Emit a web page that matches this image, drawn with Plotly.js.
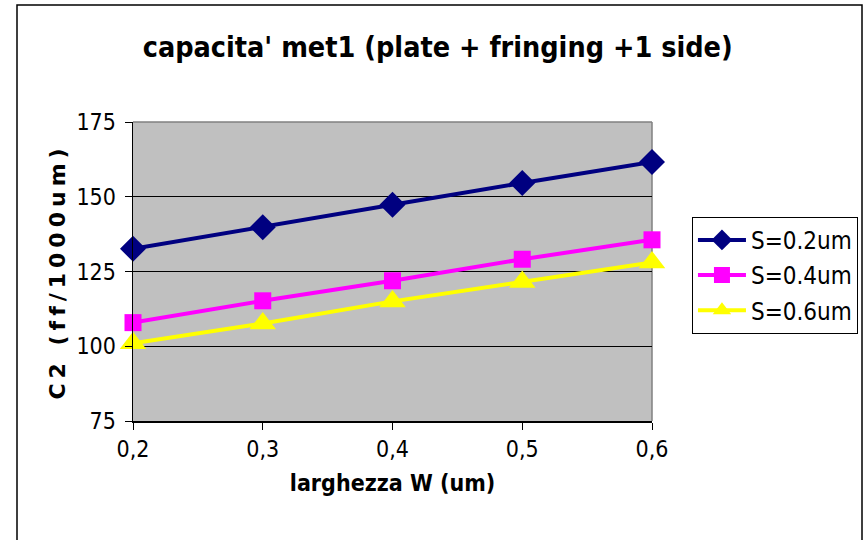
<!DOCTYPE html>
<html>
<head>
<meta charset="utf-8">
<script src="https://cdn.plot.ly/plotly-3.0.1.min.js"></script>
<style>
  html, body { margin: 0; padding: 0; background: #fff; }
  #chart { width: 865px; height: 540px; }
  .ytitle { letter-spacing: 5px; }
</style>
</head>
<body>
<div id="chart"></div>
<script>
const widths = [0.2, 0.3, 0.4, 0.5, 0.6];
const seriesNames = ["S=0.2um", "S=0.4um", "S=0.6um"];
const s02 = [132.6, 139.8, 147.3, 154.6, 161.6];
const s04 = [107.9, 115.2, 121.9, 129.1, 135.6];
const s06 = [101.0, 107.6, 115.0, 121.5, 128.0];
const xTickVals = [0.2, 0.3, 0.4, 0.5, 0.6];
const xTickText = ["0,2", "0,3", "0,4", "0,5", "0,6"];
const yTickVals = [75, 100, 125, 150, 175];

const condensed = "DejaVu Sans Condensed, DejaVu Sans, sans-serif";

const traces = [
  { x: widths, y: s02, name: seriesNames[0], legendgroup: "a", type: "scatter", mode: "lines+markers", cliponaxis: false,
    line: { color: "#000080", width: 4 }, marker: { symbol: "diamond", size: 20, color: "#000080" } },
  { x: widths, y: s04, name: seriesNames[1], legendgroup: "b", type: "scatter", mode: "lines+markers", cliponaxis: false,
    line: { color: "#FF00FF", width: 4 }, marker: { symbol: "square", size: 17, color: "#FF00FF" } },
  { x: widths, y: s06, name: seriesNames[2], legendgroup: "c", type: "scatter", mode: "lines+markers", cliponaxis: false,
    line: { color: "#FFFF00", width: 4 }, marker: { symbol: "triangle-up", size: 23, color: "#FFFF00" } }
];

const layout = {
  width: 865, height: 540,
  margin: { l: 133, r: 213, t: 122, b: 119, autoexpand: false },
  paper_bgcolor: "#ffffff",
  plot_bgcolor: "#C0C0C0",
  showlegend: true,
  title: {
    text: "<b>capacita' met1 (plate + fringing +1 side)</b>",
    font: { family: condensed, size: 28.5, color: "#000" },
    x: 0.506, xanchor: "center", y: 0.913, yanchor: "middle"
  },
  xaxis: {
    range: [0.2, 0.6],
    tickvals: xTickVals, ticktext: xTickText,
    ticks: "outside", ticklen: 7, tickcolor: "#000", tickwidth: 1,
    showgrid: false, zeroline: false,
    showline: true, linecolor: "#000", linewidth: 1.5,
    tickfont: { family: condensed, size: 23, color: "#000" },
    title: { text: "<b>larghezza W (um)</b>", font: { family: condensed, size: 23, color: "#000" }, standoff: 14 },
    mirror: false
  },
  yaxis: {
    range: [75, 175],
    tickvals: yTickVals,
    ticks: "outside", ticklen: 7, tickcolor: "#000", tickwidth: 1,
    showgrid: true, gridcolor: "#000", gridwidth: 1,
    zeroline: false,
    showline: true, linecolor: "#000", linewidth: 1.5,
    ticklabelstandoff: 4,
    tickfont: { family: condensed, size: 23, color: "#000" },
    title: { text: "<b>C2 (ff/1000um)</b>", font: { family: "DejaVu Sans, sans-serif", size: 22, color: "#000" }, standoff: 4 }
  },
  legend: {
    x: 1.077, xanchor: "left", y: 0.683, yanchor: "top",
    bgcolor: "#fff", bordercolor: "#000", borderwidth: 1,
    font: { family: condensed, size: 24, color: "#000" },
    tracegroupgap: 1, itemwidth: 48
  },
  shapes: [
    { type: "line", xref: "paper", yref: "paper",
      x0: 0, x1: 1, y0: 1, y1: 1,
      line: { color: "#808080", width: 1.5 }, layer: "below" },
    { type: "line", xref: "paper", yref: "paper",
      x0: 1, x1: 1, y0: 0, y1: 1,
      line: { color: "#808080", width: 1.5 }, layer: "below" },
    { type: "rect", xref: "paper", yref: "paper",
      x0: (17 - 133) / 519, x1: (862 - 133) / 519,
      y0: (421 - 560) / 299, y1: (421 - 5) / 299,
      line: { color: "#000", width: 1.5 }, layer: "below" }
  ]
};

Plotly.newPlot("chart", traces, layout, { displayModeBar: false, staticPlot: true });
</script>
</body>
</html>
